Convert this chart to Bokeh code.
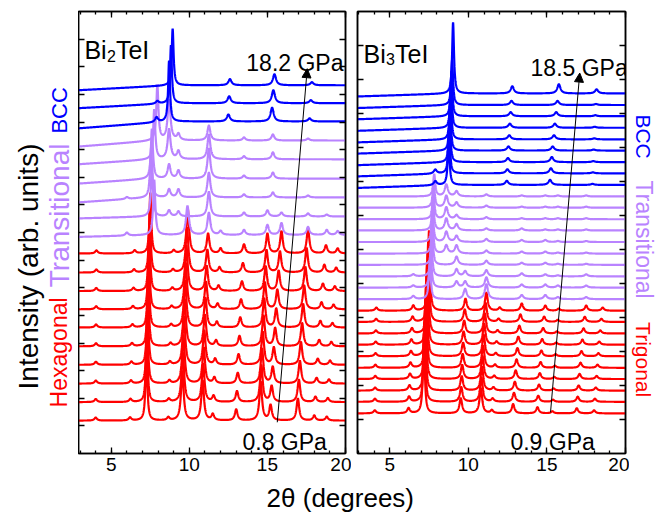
import numpy as np
from bokeh.plotting import figure
from bokeh.layouts import row, column
from bokeh.models import Range1d, FixedTicker, LinearAxis, Label, Arrow, NormalHead
from bokeh.embed import file_html
from bokeh.resources import INLINE

FONT = "Liberation Sans"
RED, PURPLE, BLUE = "#FF0000", "#B983FF", "#0000FF"

# ================= Bi2TeI (left panel) =================
L_off_hex = [1.19, 1.86, 2.53, 3.21, 3.88, 4.56, 5.22, 5.88, 6.55, 7.24]
L_off_tr = [7.91, 8.58, 9.27, 9.95, 10.65, 11.33]
L_off_bcc = [12.02, 12.68, 13.33]

L_hex_pos_lo = [4.0, 6.2, 7.25, 8.65, 9.55, 10.85, 11.5, 13.0, 14.57, 15.2, 16.95, 18.0, 18.8]
L_hex_pos_hi = [4.05, 6.5, 7.5, 9.0, 9.9, 11.2, 12.0, 13.5, 15.0, 15.9, 17.6, 18.75, 19.5]
L_hex_h_lo = [0.11, 0.11, 2.5, 0.11, 1.8, 1.45, 0.22, 0.4, 1.4, 0.55, 0.8, 0.18, 0.14]
L_hex_h_hi = [0.11, 0.11, 2.2, 0.11, 1.6, 0.72, 0.18, 0.33, 0.72, 0.8, 0.9, 0.29, 0.18]
L_hex_t = [0.0, 0.1, 0.2, 0.3, 0.42, 0.52, 0.62, 0.74, 0.86, 1.0]

L_tr_main_pos = [7.75, 7.6, 7.55, 7.6, 7.75, 7.95]
L_tr_main_h = [2.0, 1.8, 1.8, 1.8, 1.8, 2.0]
L_tr_pos = [6.0, 8.7, 9.3, 9.88, 11.25, 12.0, 13.5, 15.0, 15.35, 15.9, 17.6, 18.8, 19.5]
L_tr_h = [
    [0.11, 0.0, 0.0, 1.05, 0.8, 0.14, 0.18, 0.36, 0.0, 0.43, 0.29, 0.18, 0.14],
    [0.0, 0.22, 0.18, 0.0, 0.9, 0.0, 0.14, 0.22, 0.0, 0.14, 0.11, 0.07, 0.0],
    [0.07, 0.29, 0.29, 0.0, 0.9, 0.0, 0.11, 0.0, 0.18, 0.0, 0.07, 0.0, 0.0],
    [0.0, 0.51, 0.29, 0.0, 1.09, 0.0, 0.11, 0.0, 0.22, 0.0, 0.0, 0.0, 0.0],
    [0.0, 1.09, 0.29, 0.0, 0.9, 0.0, 0.11, 0.0, 0.25, 0.0, 0.0, 0.0, 0.0],
    [0.0, 1.45, 0.22, 0.0, 0.54, 0.0, 0.11, 0.0, 0.22, 0.0, 0.07, 0.0, 0.0],
]
L_tr_ramp = [0.07, 0.07, 0.18, 0.18, 0.18, 0.22]

L_bcc_main_pos = [8.7, 8.82, 8.93]
L_bcc_main_h = [2.2, 2.1, 2.05]
L_bcc_pos = [[7.9, 12.5, 15.3, 17.7], [7.95, 12.55, 15.38, 17.78], [8.0, 12.6, 15.45, 17.85]]
L_bcc_h = [[0.18, 0.25, 0.5, 0.11], [0.1, 0.25, 0.47, 0.11], [0.0, 0.22, 0.4, 0.11]]
L_bcc_ramp = [0.25, 0.18, 0.18]

# ================= Bi3TeI (right panel) =================
R_off_tri = [1.18, 1.52, 1.85, 2.19, 2.52, 2.86, 3.20, 3.53, 3.87, 4.20]
R_off_tr = [4.54, 4.88, 5.21, 5.55, 5.88, 6.22, 6.56, 6.89, 7.23, 7.56]
R_off_bcc = [7.90, 8.24, 8.57, 8.91, 9.24, 9.58, 9.92, 10.25, 10.59]

R_tri_pos_lo = [4.05, 6.2, 7.17, 9.52, 10.8, 11.5, 12.85, 14.4, 15.35, 16.9, 18.0]
R_tri_pos_hi = [4.15, 6.5, 7.5, 9.82, 11.15, 12.0, 13.4, 14.9, 15.75, 17.5, 18.55]
R_tri_h_lo = [0.09, 0.15, 2.36, 0.44, 0.74, 0.09, 0.27, 0.18, 0.06, 0.15, 0.09]
R_tri_h_hi = [0.09, 0.15, 2.36, 0.35, 0.53, 0.09, 0.21, 0.15, 0.06, 0.15, 0.09]
R_tri_t = [0.0, 0.1, 0.2, 0.3, 0.4, 0.5, 0.6, 0.72, 0.85, 1.0]

R_tr_main_pos = [7.55, 7.6, 7.65, 7.7, 7.72, 7.72, 7.75, 7.78, 7.8, 7.83]
R_tr_main_h = [1.03, 1.03, 0.94, 0.88, 0.88, 0.88, 0.83, 0.77, 0.71, 0.65]
R_tr_pos = [6.5, 8.6, 9.25, 9.8, 11.15, 13.4, 14.9, 15.7, 17.5]
R_tr_h = [
    [0.09, 0.0, 0.0, 0.3, 0.44, 0.12, 0.12, 0.06, 0.06],
    [0.06, 0.0, 0.18, 0.18, 0.3, 0.09, 0.09, 0.06, 0.06],
    [0.06, 0.0, 0.21, 0.15, 0.18, 0.09, 0.06, 0.03, 0.06],
    [0.0, 0.0, 0.24, 0.0, 0.12, 0.06, 0.06, 0.03, 0.03],
    [0.0, 0.24, 0.24, 0.0, 0.09, 0.06, 0.06, 0.03, 0.03],
    [0.0, 0.3, 0.18, 0.0, 0.09, 0.06, 0.06, 0.03, 0.03],
    [0.0, 0.35, 0.18, 0.0, 0.06, 0.06, 0.03, 0.03, 0.03],
    [0.0, 0.35, 0.12, 0.0, 0.06, 0.03, 0.03, 0.03, 0.03],
    [0.0, 0.35, 0.15, 0.0, 0.06, 0.03, 0.03, 0.03, 0.03],
    [0.0, 0.35, 0.15, 0.0, 0.06, 0.03, 0.03, 0.03, 0.03],
]

R_bcc_main_pos = [8.75, 8.78, 8.81, 8.84, 8.87, 8.9, 8.93, 8.97, 9.03]
R_bcc_main_h = [1.33, 1.33, 1.33, 1.33, 1.33, 1.33, 1.33, 1.33, 2.09]
R_bcc_pos_lo = [7.9, 12.45, 15.2, 17.9]
R_bcc_pos_hi = [7.9, 12.8, 15.76, 18.16]
R_bcc_t = [0.0, 0.1, 0.2, 0.3, 0.45, 0.55, 0.7, 0.85, 1.0]
R_bcc_h = [
    [0.12, 0.12, 0.15, 0.03],
    [0.12, 0.12, 0.15, 0.03],
    [0.0, 0.12, 0.15, 0.03],
    [0.0, 0.12, 0.12, 0.03],
    [0.0, 0.12, 0.12, 0.03],
    [0.0, 0.12, 0.12, 0.03],
    [0.0, 0.12, 0.12, 0.03],
    [0.0, 0.12, 0.12, 0.03],
    [0.0, 0.21, 0.27, 0.12],
]
R_bcc_ramp = 0.09

X_TICKS = [5, 10, 15, 20]
X_MINOR = list(range(3, 21))
L_YTICKS = list(range(1, 16))
R_YTICKS = list(range(1, 13))

PANEL_H = 481
TOP_B, BOT_B = 11, 28

x = np.linspace(2.8, 20.1, 1731)


def profile(off, centers, heights, w, main_c=None, main_h=0.0, w_main=0.07, ramp=0.0):
    y = np.full_like(x, off)
    for c, h in zip(centers, heights):
        if h > 0:
            y = y + h * w * w / ((x - c) ** 2 + w * w)
    if main_c is not None:
        y = y + main_h * w_main ** 2 / ((x - main_c) ** 2 + w_main ** 2)
        if ramp:
            y = y - ramp * np.clip((main_c - x) / (main_c - 2.9), 0, 1)
    return y


def lerp(a, b, t):
    return [ai + (bi - ai) * t for ai, bi in zip(a, b)]


def style_axis(ax, labelled):
    ax.axis_line_color = "black"
    ax.axis_line_width = 1.5
    ax.major_tick_line_color = "black"
    ax.major_tick_line_width = 1.3
    ax.minor_tick_line_color = "black"
    ax.minor_tick_line_width = 1.3
    ax.major_tick_in = 6
    ax.major_tick_out = 0
    ax.minor_tick_in = 3
    ax.minor_tick_out = 0
    if labelled:
        ax.major_label_text_font = FONT
        ax.major_label_text_font_size = "19px"
        ax.major_label_text_color = "black"
        ax.major_label_standoff = 4
    else:
        ticks = ax.ticker.ticks
        ax.major_label_overrides = {t: "" for t in ticks}
        ax.major_label_text_font_size = "1px"
        ax.major_label_standoff = 0


def make_panel(xr, yr, yticks, width, bl, br):
    p = figure(width=width, height=PANEL_H, x_range=Range1d(*xr), y_range=Range1d(*yr),
               output_backend="svg", toolbar_location=None,
               min_border_left=bl, min_border_right=br, min_border_top=TOP_B,
               min_border_bottom=BOT_B)
    p.grid.visible = False
    p.outline_line_color = "black"
    p.outline_line_width = 1.5
    p.background_fill_color = "white"
    p.border_fill_color = "white"
    xa = p.xaxis[0]
    xa.ticker = FixedTicker(ticks=X_TICKS, minor_ticks=X_MINOR)
    ya = p.yaxis[0]
    ya.ticker = FixedTicker(ticks=yticks, minor_ticks=[])
    top = LinearAxis(ticker=FixedTicker(ticks=X_TICKS, minor_ticks=X_MINOR))
    right = LinearAxis(ticker=FixedTicker(ticks=yticks, minor_ticks=[]))
    p.add_layout(top, "above")
    p.add_layout(right, "right")
    style_axis(xa, True)
    for ax in [ya, top, right]:
        style_axis(ax, False)
    return p


def make_strip(width, yr):
    s = figure(width=width, height=PANEL_H, x_range=Range1d(0, 1), y_range=Range1d(*yr),
               output_backend="svg", toolbar_location=None,
               min_border_left=0, min_border_right=0, min_border_top=TOP_B,
               min_border_bottom=BOT_B)
    s.axis.visible = False
    s.grid.visible = False
    s.outline_line_color = None
    return s


def add_text(p, xx, yy, txt, color="black", size="23px", align="left", angle=0.0,
             baseline="alphabetic", x_offset=0):
    p.add_layout(Label(x=xx, y=yy, text=txt, text_color=color, text_font=FONT,
                       text_font_size=size, text_align=align, angle=angle,
                       text_baseline=baseline, x_offset=x_offset))


# ---------------- left panel ----------------
p1 = make_panel((2.9, 20.0), (0, 16), L_YTICKS, 273, 0, 6)
for off, t in zip(L_off_hex, L_hex_t):
    pos = lerp(L_hex_pos_lo, L_hex_pos_hi, t)
    hh = lerp(L_hex_h_lo, L_hex_h_hi, t)
    p1.line(x, profile(off, pos[:2] + pos[3:], hh[:2] + hh[3:], 0.1, pos[2], hh[2]),
            line_color=RED, line_width=2.2)
for i, off in enumerate(L_off_tr):
    p1.line(x, profile(off, L_tr_pos, L_tr_h[i], 0.11, L_tr_main_pos[i], L_tr_main_h[i],
                       0.08, L_tr_ramp[i]), line_color=PURPLE, line_width=2.2)
for i, off in enumerate(L_off_bcc):
    p1.line(x, profile(off, L_bcc_pos[i], L_bcc_h[i], 0.12, L_bcc_main_pos[i], L_bcc_main_h[i],
                       0.07, L_bcc_ramp[i]), line_color=BLUE, line_width=2.2)

p1.add_layout(Arrow(x_start=15.63, y_start=1.13, x_end=17.55, y_end=13.93, line_width=1,
                    line_color="black",
                    end=NormalHead(size=9, fill_color="black", line_color="black")))
add_text(p1, 19.87, 14.12, "18.2 GPa", align="right")
add_text(p1, 13.40, 0.40, "0.8 GPa")
add_text(p1, 3.28, 14.59, "Bi", size="25px")
add_text(p1, 3.28, 14.40, "2", size="16px", x_offset=22.5)
add_text(p1, 3.28, 14.59, "TeI", size="25px", x_offset=31.5)

sl = make_strip(78, (0, 16))
add_text(sl, 0.36, 6.77, "Intensity (arb. units)", size="28px", align="center",
         angle=np.pi / 2, baseline="middle")
add_text(sl, 0.75, 12.42, "BCC", color=BLUE, size="22px", align="center",
         angle=np.pi / 2, baseline="middle")
add_text(sl, 0.75, 8.62, "Transitional", color=PURPLE, size="28px", align="center",
         angle=np.pi / 2, baseline="middle")
add_text(sl, 0.75, 3.66, "Hexagonal", color=RED, size="23px", align="center",
         angle=np.pi / 2, baseline="middle")

# ---------------- right panel ----------------
p2 = make_panel((2.95, 20.0), (0, 13), R_YTICKS, 278, 6, 4)
for off, t in zip(R_off_tri, R_tri_t):
    pos = lerp(R_tri_pos_lo, R_tri_pos_hi, t)
    hh = lerp(R_tri_h_lo, R_tri_h_hi, t)
    p2.line(x, profile(off, pos[:2] + pos[3:], hh[:2] + hh[3:], 0.1, pos[2], hh[2]),
            line_color=RED, line_width=2.2)
for i, off in enumerate(R_off_tr):
    p2.line(x, profile(off, R_tr_pos, R_tr_h[i], 0.12, R_tr_main_pos[i], R_tr_main_h[i], 0.08),
            line_color=PURPLE, line_width=2.2)
for i, off in enumerate(R_off_bcc):
    pos = lerp(R_bcc_pos_lo, R_bcc_pos_hi, R_bcc_t[i])
    p2.line(x, profile(off, pos, R_bcc_h[i], 0.12, R_bcc_main_pos[i], R_bcc_main_h[i],
                       0.07, R_bcc_ramp), line_color=BLUE, line_width=2.2)

p2.add_layout(Arrow(x_start=15.23, y_start=1.21, x_end=17.09, y_end=11.19, line_width=1,
                    line_color="black",
                    end=NormalHead(size=9, fill_color="black", line_color="black")))
add_text(p2, 13.96, 11.35, "18.5 GPa")
add_text(p2, 12.68, 0.35, "0.9 GPa")
add_text(p2, 3.33, 11.76, "Bi", size="25px")
add_text(p2, 3.33, 11.61, "3", size="16px", x_offset=22.5)
add_text(p2, 3.33, 11.76, "TeI", size="25px", x_offset=31.5)

sr = make_strip(36, (0, 13))
add_text(sr, 0.39, 9.32, "BCC", color=BLUE, size="21px", align="center",
         angle=-np.pi / 2, baseline="middle")
add_text(sr, 0.39, 6.29, "Transitional", color=PURPLE, size="23px", align="center",
         angle=-np.pi / 2, baseline="middle")
add_text(sr, 0.39, 2.76, "Trigonal", color=RED, size="21px", align="center",
         angle=-np.pi / 2, baseline="middle")

# ---------------- shared x label ----------------
p3 = figure(width=665, height=35, x_range=Range1d(0, 1), y_range=Range1d(0, 1),
            output_backend="svg", toolbar_location=None,
            min_border_left=0, min_border_right=0, min_border_top=0, min_border_bottom=0)
p3.axis.visible = False
p3.grid.visible = False
p3.outline_line_color = None
add_text(p3, 0.511, 0.54, "2θ (degrees)", size="26px", align="center", baseline="middle")

layout = column(row(sl, p1, p2, sr), p3)
open("out.html", "w").write(file_html(layout, INLINE))
